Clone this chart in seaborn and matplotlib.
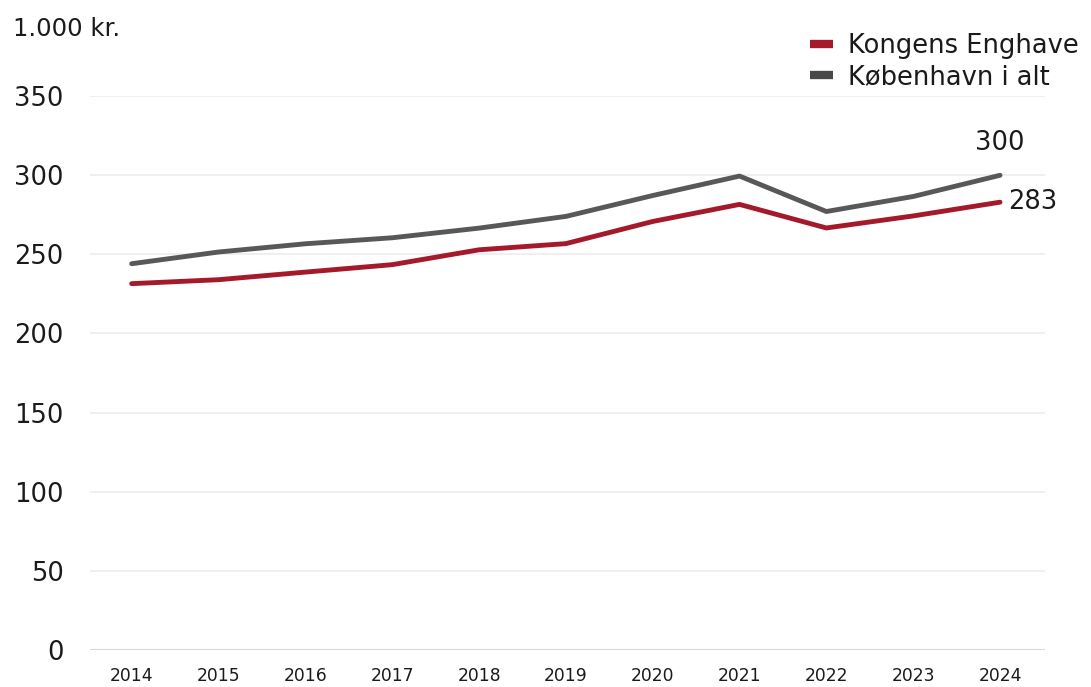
import pandas as pd
import matplotlib.pyplot as plt
import seaborn as sns

years = [2014, 2015, 2016, 2017, 2018, 2019, 2020, 2021, 2022, 2023, 2024]
kongens_enghave = [231.5, 234, 238.8, 243.5, 252.9, 256.8, 270.8, 281.6, 266.7, 274.3, 283]
kbh_i_alt = [244.1, 251.5, 256.7, 260.5, 266.6, 274, 287.2, 299.5, 277.1, 286.6, 300]
series_names = ['Kongens Enghave', 'København i alt']
colors = ['#A41A2B', '#585858']

df = pd.DataFrame({'year': years * 2,
                   'value': kongens_enghave + kbh_i_alt,
                   'serie': [series_names[0]] * len(years) + [series_names[1]] * len(years)})

sns.set_style('white')
plt.rcParams['font.family'] = ['DejaVu Sans']

fig = plt.figure(figsize=(10.91, 6.87), dpi=100)
ax = fig.add_axes([0.0825, 0.054, 0.8755, 0.806])

sns.lineplot(data=df, x='year', y='value', hue='serie', palette=colors,
             linewidth=3.5, ax=ax, legend=False)

ax.set_xlim(2013.52, 2024.52)
ax.set_ylim(0, 350)
ax.set_xticks(years)
ax.set_xticklabels([str(y) for y in years], fontsize=12.3, color='#1a1a1a')
ax.set_yticks(range(0, 351, 50))
ax.set_yticklabels([str(v) for v in range(0, 351, 50)], fontsize=18.5, color='#1a1a1a')
ax.tick_params(axis='both', length=0)
ax.tick_params(axis='y', pad=19)
ax.tick_params(axis='x', pad=12)
ax.set_xlabel('')
ax.set_ylabel('')
for s in ax.spines.values():
    s.set_visible(False)
ax.grid(axis='y', color='#ececec', linewidth=1.2)
ax.axhline(0, color='#d9d9d9', linewidth=1.5, zorder=1)

ax.text(years[-1], kbh_i_alt[-1] + 16, f'{kbh_i_alt[-1]:.0f}', ha='center', va='baseline',
        fontsize=18.5, color='#1a1a1a')
ax.text(years[-1] + 0.09, kongens_enghave[-1], f'{kongens_enghave[-1]:.0f}', ha='left', va='center',
        fontsize=18.5, color='#1a1a1a')

fig.text(0.0115, 0.958, '1.000 kr.', fontsize=17.5, color='#1a1a1a', va='center')

handles = [plt.Line2D([], [], color=c, linewidth=6, solid_capstyle='butt')
           for c in ['#A41A2B', '#484848']]
fig.legend(handles, series_names, loc='upper right', bbox_to_anchor=(1.003, 0.975),
           frameon=False, fontsize=18.5, handlelength=0.9, handletextpad=0.6,
           labelspacing=0.2, borderaxespad=0.2, labelcolor='#1a1a1a')

fig.savefig('out.png', dpi=100)
